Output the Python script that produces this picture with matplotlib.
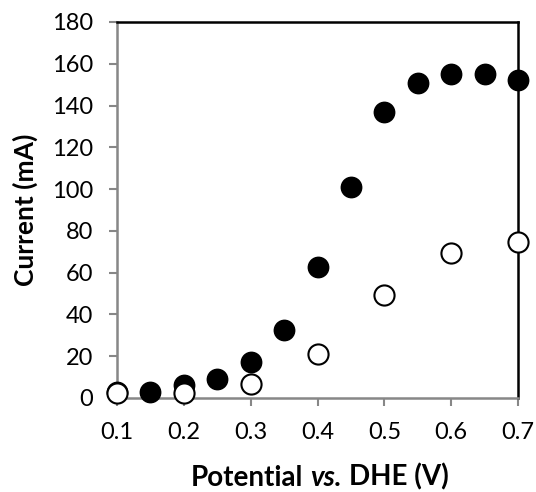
import matplotlib
matplotlib.use("Agg")
import matplotlib.pyplot as plt
from matplotlib.offsetbox import TextArea, HPacker, AnchoredOffsetbox

# potential (V) and current (mA)
pot_filled = [0.1, 0.15, 0.2, 0.25, 0.3, 0.35, 0.4, 0.45, 0.5, 0.55, 0.6, 0.65, 0.7]
cur_filled = [3, 3, 6, 9, 17, 32.5, 62.5, 101, 137, 151, 155, 155, 152]

pot_open = [0.1, 0.2, 0.3, 0.4, 0.5, 0.6, 0.7]
cur_open = [2.5, 2.5, 6.5, 21, 49.5, 69.5, 74.5]

xticks = [0.1, 0.2, 0.3, 0.4, 0.5, 0.6, 0.7]
yticks = [0, 20, 40, 60, 80, 100, 120, 140, 160, 180]

plt.rcParams['font.family'] = ['Lato', 'DejaVu Sans']

fig = plt.figure(figsize=(5.36, 4.92), dpi=100)
ax = fig.add_axes([117 / 536, 94 / 492, 401 / 536, 376 / 492])

ax.plot(pot_filled, cur_filled, 'o', ms=14.5, mfc='black', mec='black', mew=1.2, clip_on=False, zorder=3)
ax.plot(pot_open, cur_open, 'o', ms=14.5, mfc='white', mec='black', mew=1.5, clip_on=False, zorder=4)

ax.set_xlim(0.1, 0.7)
ax.set_ylim(0, 180)
ax.set_xticks(xticks)
ax.set_xticklabels([str(t) for t in xticks])
ax.set_yticks(yticks)

for s in ['left', 'bottom']:
    ax.spines[s].set_color('#878787')
    ax.spines[s].set_linewidth(1.8)
for s in ['top', 'right']:
    ax.spines[s].set_color('black')
    ax.spines[s].set_linewidth(1.8)

ax.tick_params(direction='out', length=6, width=1.5, color='#878787', labelsize=17)
ax.tick_params(axis='y', pad=11)
ax.tick_params(axis='x', pad=11)

ax.set_ylabel('Current (mA)', fontsize=19, fontweight='bold', labelpad=10)

# x label with bold italic "vs."
props = dict(fontsize=20, fontweight='bold')
parts = [TextArea('Potential', textprops=props),
         TextArea('vs.', textprops=dict(props, style='italic')),
         TextArea('DHE (V)', textprops=props)]
pack = HPacker(children=parts, align='baseline', pad=0, sep=5)
lab = AnchoredOffsetbox(loc='center', child=pack, frameon=False, pad=0, borderpad=0,
                        bbox_to_anchor=(320 / 536, 1 - 477 / 492), bbox_transform=fig.transFigure)
fig.add_artist(lab)

fig.savefig('out.png', dpi=100)
